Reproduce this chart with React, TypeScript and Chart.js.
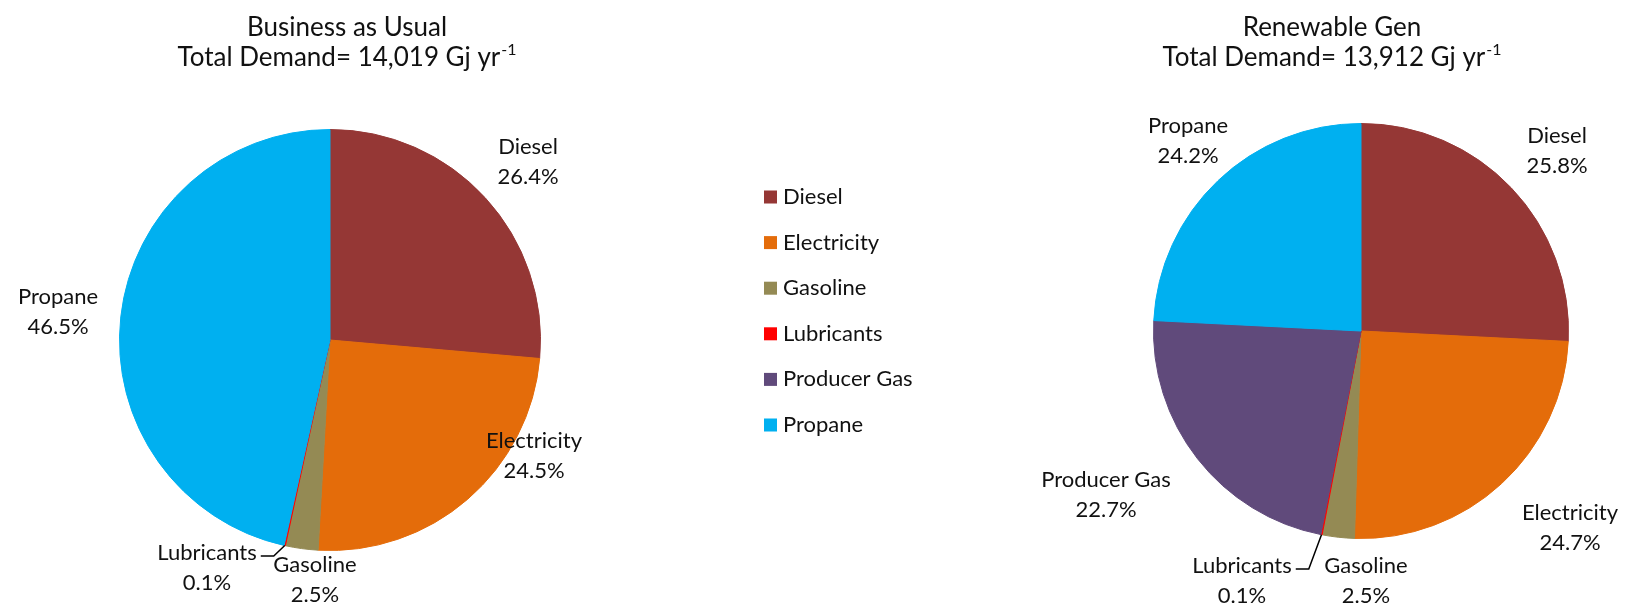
import React, { useEffect, useRef } from "react";
import { Chart, registerables } from "chart.js";

Chart.register(...registerables);

const CATEGORIES = ["Diesel", "Electricity", "Gasoline", "Lubricants", "Producer Gas", "Propane"];
const COLORS = ["#953735", "#E46C0A", "#948A54", "#FF0000", "#604A7B", "#00B0F0"];
const BAU_VALUES = [26.4, 24.5, 2.5, 0.1, 0, 46.5];
const RENEW_VALUES = [25.8, 24.7, 2.5, 0.1, 22.7, 24.2];
const BAU_TITLE = ["Business as Usual", "Total Demand= 14,019 Gj yr"];
const RENEW_TITLE = ["Renewable Gen", "Total Demand= 13,912 Gj yr"];
const TITLE_SUP = "-1";

// label block centres, relative to the pie centre (px); null = no label
const BAU_LABEL_POS: (number[] | null)[] = [[198, -178], [204, 116], [-15, 240], [-123, 228], null, [-272, -28]];
const RENEW_LABEL_POS: (number[] | null)[] = [[196, -180], [209, 197], [5, 250], [-119, 250], [-255, 164], [-173, -190]];

const FONT = "Lato, 'Open Sans', sans-serif";
const TEXT = "#111";

function makePlugin(labelPos: (number[] | null)[], title: string[], titleX: number, legend: boolean) {
  return {
    id: "custom-text",
    afterDraw(chart: any) {
      const ctx = chart.ctx;
      const meta = chart.getDatasetMeta(0);
      const values = chart.data.datasets[0].data as number[];
      ctx.save();
      ctx.fillStyle = TEXT;
      ctx.textBaseline = "middle";
      // titles
      ctx.textAlign = "left";
      ctx.font = `26px ${FONT}`;
      const w1 = ctx.measureText(title[0]).width;
      ctx.fillText(title[0], titleX - w1 / 2, 28);
      const w2 = ctx.measureText(title[1]).width;
      ctx.font = `16px ${FONT}`;
      const ws = ctx.measureText(TITLE_SUP).width;
      const start = titleX - (w2 + ws + 1) / 2;
      ctx.font = `26px ${FONT}`;
      ctx.fillText(title[1], start, 58);
      ctx.font = `16px ${FONT}`;
      ctx.fillText(TITLE_SUP, start + w2 + 1, 50);

      // slice labels
      ctx.font = `22px ${FONT}`;
      ctx.textAlign = "center";
      meta.data.forEach((arc: any, i: number) => {
        const pos = labelPos[i];
        if (!pos) return;
        const { x, y, outerRadius, startAngle, endAngle } = arc.getProps(
          ["x", "y", "outerRadius", "startAngle", "endAngle"],
          true
        );
        const cx = x + pos[0];
        const cy = y + pos[1];
        const name = CATEGORIES[i];
        const pct = values[i].toFixed(1) + "%";
        ctx.fillStyle = TEXT;
        ctx.fillText(name, cx, cy - 15);
        ctx.fillText(pct, cx, cy + 15);
        if (values[i] < 1) {
          // leader line
          const mid = (startAngle + endAngle) / 2;
          const sx = x + Math.cos(mid) * outerRadius;
          const sy = y + Math.sin(mid) * outerRadius;
          const tw = ctx.measureText(name).width;
          const endX = cx + tw / 2 + 4;
          const lineY = cy - 12;
          ctx.strokeStyle = "#000";
          ctx.lineWidth = 1.5;
          ctx.beginPath();
          ctx.moveTo(sx, sy);
          ctx.lineTo(endX + 13, lineY);
          ctx.lineTo(endX, lineY);
          ctx.stroke();
        }
      });

      if (legend) {
        ctx.textAlign = "left";
        ctx.font = `22px ${FONT}`;
        CATEGORIES.forEach((c, i) => {
          const ly = 197 + i * 45.6;
          ctx.fillStyle = COLORS[i];
          ctx.fillRect(764, ly - 6.5, 13, 13);
          ctx.fillStyle = TEXT;
          ctx.fillText(c, 783, ly);
        });
      }
      ctx.restore();
    },
  };
}

function PieChart(props: {
  values: number[];
  labelPos: (number[] | null)[];
  title: string[];
  titleX: number;
  legend: boolean;
  padding: { left: number; right: number; top: number; bottom: number };
}) {
  const ref = useRef<HTMLCanvasElement | null>(null);
  useEffect(() => {
    if (!ref.current) return;
    const chart = new Chart(ref.current, {
      type: "pie",
      data: {
        labels: CATEGORIES,
        datasets: [
          {
            data: props.values,
            backgroundColor: COLORS,
            borderColor: COLORS,
            borderWidth: (c: any) => (c.raw === 0 ? 0 : 1),
          },
        ],
      },
      options: {
        responsive: true,
        maintainAspectRatio: false,
        animation: false,
        layout: { padding: props.padding },
        plugins: {
          legend: { display: false },
          tooltip: { enabled: false },
          title: { display: false },
        },
      },
      plugins: [makePlugin(props.labelPos, props.title, props.titleX, props.legend)],
    } as any);
    return () => chart.destroy();
  }, []);
  return <canvas ref={ref} />;
}

export default function App() {
  return (
    <div
      style={{
        position: "fixed",
        left: 0,
        top: 0,
        width: 1631,
        height: 608,
        background: "#fff",
      }}
    >
      <div style={{ position: "absolute", left: 0, top: 0, width: 1000, height: 608 }}>
        <PieChart
          values={BAU_VALUES}
          labelPos={BAU_LABEL_POS}
          title={BAU_TITLE}
          titleX={347}
          legend={true}
          padding={{ left: 119, right: 459, top: 129, bottom: 57 }}
        />
      </div>
      <div style={{ position: "absolute", left: 1000, top: 0, width: 631, height: 608 }}>
        <PieChart
          values={RENEW_VALUES}
          labelPos={RENEW_LABEL_POS}
          title={RENEW_TITLE}
          titleX={332}
          legend={false}
          padding={{ left: 153, right: 62, top: 123, bottom: 69 }}
        />
      </div>
    </div>
  );
}
